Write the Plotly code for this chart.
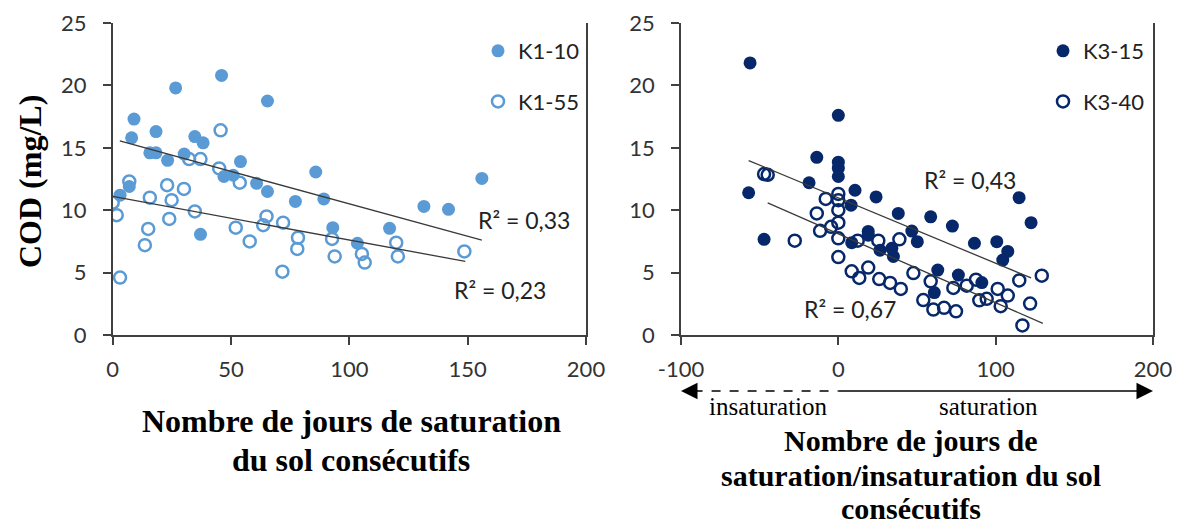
import plotly.graph_objects as go

# ---------------- data ----------------
k1_10_x = [3.1, 7, 8, 9, 15.7, 18.3, 18.3, 23.2, 26.6, 30.2, 34.7, 37.1, 38.2, 46, 47, 50.9, 54,
           60.8, 65.4, 65.4, 77.2, 85.8, 89.2, 93, 103.4, 117, 131.5, 141.9, 156]
k1_10_y = [11.2, 11.9, 15.8, 17.3, 14.6, 14.6, 16.3, 14.0, 19.8, 14.5, 15.9, 8.07, 15.4, 20.8, 12.7,
           12.8, 13.9, 12.15, 18.75, 11.5, 10.7, 13.06, 10.9, 8.6, 7.35, 8.55, 10.3, 10.07, 12.55]

k1_55_x = [0, 1.7, 3.1, 7, 13.6, 15, 15.7, 23, 23.9, 24.9, 30.1, 32.3, 34.7, 37.1, 45, 45.6, 52, 53.7,
           57.9, 63.6, 65, 71.7, 72, 78, 78.3, 92.7, 93.8, 105.3, 106.5, 119.8, 120.5, 148.6]
k1_55_y = [10.6, 9.6, 4.6, 12.3, 7.2, 8.5, 11.0, 12.0, 9.3, 10.8, 11.7, 14.1, 9.9, 14.1, 13.35, 16.4,
           8.6, 12.2, 7.5, 8.8, 9.5, 5.07, 9.0, 6.9, 7.8, 7.7, 6.3, 6.5, 5.8, 7.4, 6.3, 6.7]

k3_15_x = [-57, -56.1, -47.2, -18.6, -13.7, 0, 0, 0, 0, 8.1, 8.5, 10.6, 19, 19, 24, 26.5, 34, 35, 38.1,
           46.7, 50.2, 58.7, 61, 63.2, 72.5, 76.3, 86.5, 91.2, 100.7, 104.5, 107.7, 114.9, 122.5]
k3_15_y = [11.4, 21.8, 7.67, 12.2, 14.24, 17.6, 13.85, 13.37, 12.7, 10.4, 7.4, 11.6, 8.3, 8.0, 11.06,
           6.8, 6.95, 6.3, 9.74, 8.33, 7.48, 9.47, 3.4, 5.2, 8.73, 4.8, 7.35, 4.2, 7.48, 6.0, 6.7, 11.0, 9.0]

k3_40_x = [-47.2, -44.9, -27.7, -13.7, -11.6, -8, -4.6, 0, 0, 0, 0, 0, 0, 8.5, 12.3, 13.3, 19, 25.4,
           26, 32.9, 38.8, 39.7, 47.7, 54, 58.7, 60.4, 67.2, 73.1, 74.8, 81.6, 87.5, 89.6, 94.3, 101.3,
           103.2, 107.7, 115, 117, 121.9, 129.3]
k3_40_y = [12.9, 12.84, 7.56, 9.74, 8.35, 10.9, 8.67, 11.3, 10.8, 10.0, 9.0, 7.75, 6.24, 5.1, 7.56, 4.57,
           5.4, 7.56, 4.48, 4.17, 7.67, 3.69, 4.96, 2.8, 4.3, 2.04, 2.18, 3.77, 1.9, 3.95, 4.43, 2.78, 2.9,
           3.69, 2.31, 3.16, 4.37, 0.77, 2.52, 4.75]

# trend lines (endpoints)
k1_10_trend_x = [3, 156]
k1_10_trend_y = [15.55, 7.6]
k1_55_trend_x = [0, 149]
k1_55_trend_y = [11.1, 5.9]
k3_15_trend_x = [-57, 122.5]
k3_15_trend_y = [13.98, 4.57]
k3_40_trend_x = [-44.9, 130]
k3_40_trend_y = [10.58, 0.93]

r2_labels = ["R² = 0,33", "R² = 0,23", "R² = 0,43", "R² = 0,67"]
y_ticks = [0, 5, 10, 15, 20, 25]
x1_ticks = [0, 50, 100, 150, 200]
x2_ticks = [-100, 0, 100, 200]
x2_ticktext = ["-100", "0", "100", "200"]

# ---------------- style ----------------
BLUE = "#5B9BD5"
NAVY = "#06276A"
TREND = "#3A3A3A"
SANS = "Lato, 'Open Sans', sans-serif"
TICKFONT = dict(family=SANS, size=22, color="#333333")
SERIF = "'Liberation Serif', 'Times New Roman', serif"
MS = 13

# page has an 8px body margin: figure is placed at (8, 8)
OFF = 8
W, H = 1180 - OFF, 526 - OFF
def px(x):
    return (x - OFF) / W
def py(y):
    return 1 - (y - OFF) / H

fig = go.Figure()

# left panel
fig.add_trace(go.Scatter(x=k1_10_x, y=k1_10_y, mode="markers", name="K1-10",
                         marker=dict(symbol="circle", size=MS, color=BLUE),
                         xaxis="x", yaxis="y", legend="legend", legendgroup="a"))
fig.add_trace(go.Scatter(x=k1_55_x, y=k1_55_y, mode="markers", name="K1-55",
                         marker=dict(symbol="circle-open", size=MS - 1, color=BLUE,
                                     line=dict(width=2.5, color=BLUE)),
                         xaxis="x", yaxis="y", legend="legend", legendgroup="b"))
fig.add_trace(go.Scatter(x=k1_10_trend_x, y=k1_10_trend_y, mode="lines", showlegend=False,
                         line=dict(color=TREND, width=1.3), xaxis="x", yaxis="y", hoverinfo="skip"))
fig.add_trace(go.Scatter(x=k1_55_trend_x, y=k1_55_trend_y, mode="lines", showlegend=False,
                         line=dict(color=TREND, width=1.3), xaxis="x", yaxis="y", hoverinfo="skip"))

# right panel
fig.add_trace(go.Scatter(x=k3_15_x, y=k3_15_y, mode="markers", name="K3-15",
                         marker=dict(symbol="circle", size=MS, color=NAVY),
                         xaxis="x2", yaxis="y2", legend="legend2", legendgroup="c"))
fig.add_trace(go.Scatter(x=k3_40_x, y=k3_40_y, mode="markers", name="K3-40",
                         marker=dict(symbol="circle-open", size=MS - 1, color=NAVY,
                                     line=dict(width=2.5, color=NAVY)),
                         xaxis="x2", yaxis="y2", legend="legend2", legendgroup="d"))
fig.add_trace(go.Scatter(x=k3_15_trend_x, y=k3_15_trend_y, mode="lines", showlegend=False,
                         line=dict(color=TREND, width=1.3), xaxis="x2", yaxis="y2", hoverinfo="skip"))
fig.add_trace(go.Scatter(x=k3_40_trend_x, y=k3_40_trend_y, mode="lines", showlegend=False,
                         line=dict(color=TREND, width=1.3), xaxis="x2", yaxis="y2", hoverinfo="skip"))

axis_common = dict(showgrid=False, zeroline=False, showline=True, linecolor="#404040", linewidth=1.5,
                   ticks="outside", ticklen=8, tickwidth=1.5, tickcolor="#404040", tickfont=TICKFONT,
                   automargin=False)
xcommon = dict(axis_common, ticklabelstandoff=6)
ycommon = dict(axis_common, ticklabelstandoff=12)

ydom = [py(335), py(23)]
legfont = dict(family=SANS, size=22, color="#222222")
fig.update_layout(
    width=W, height=H,
    margin=dict(l=0, r=0, t=0, b=0),
    paper_bgcolor="white", plot_bgcolor="white",
    xaxis=dict(domain=[px(112.7), px(586)], range=[0, 200], tickvals=x1_ticks, anchor="y", **xcommon),
    yaxis=dict(domain=ydom, range=[0, 25], tickvals=y_ticks, anchor="x", mirror=True, **ycommon),
    xaxis2=dict(domain=[px(681), px(1153)], range=[-100, 200], tickvals=x2_ticks, ticktext=x2_ticktext,
                anchor="y2", **xcommon),
    yaxis2=dict(domain=ydom, range=[0, 25], tickvals=y_ticks, anchor="x2", mirror=True, **ycommon),
    legend=dict(x=px(478), y=py(30), xanchor="left", yanchor="top", bgcolor="rgba(0,0,0,0)",
                font=legfont, tracegroupgap=19, itemwidth=30),
    legend2=dict(x=px(1043), y=py(30), xanchor="left", yanchor="top", bgcolor="rgba(0,0,0,0)",
                 font=legfont, tracegroupgap=19, itemwidth=30),
    showlegend=True,
)

ann = []
r2font = dict(family=SANS, size=23, color="#222222")
ann.append(dict(x=174, y=9.2, xref="x", yref="y", text=r2_labels[0], showarrow=False, font=r2font))
ann.append(dict(x=163.5, y=3.6, xref="x", yref="y", text=r2_labels[1], showarrow=False, font=r2font))
ann.append(dict(x=83.6, y=12.4, xref="x2", yref="y2", text=r2_labels[2], showarrow=False, font=r2font))
ann.append(dict(x=7.4, y=2.05, xref="x2", yref="y2", text=r2_labels[3], showarrow=False, font=r2font))

tfont = dict(family=SERIF, size=32, color="black")
tfont_r = dict(family=SERIF, size=30, color="black")
def title(x, y, text, font=tfont, **kw):
    d = dict(x=px(x), y=py(y), xref="paper", yref="paper", text=text, showarrow=False,
             font=font, xanchor="center", yanchor="middle", borderpad=0)
    d.update(kw)
    ann.append(d)

title(30, 182, "<b>COD (mg/L)</b>", textangle=-90)
title(351, 421, "<b>Nombre de jours de saturation</b>")
title(351, 460, "<b>du sol consécutifs</b>")
title(911, 440, "<b>Nombre de jours de</b>", font=tfont_r)
title(911, 475, "<b>saturation/insaturation du sol</b>", font=tfont_r)
title(911, 508, "<b>consécutifs</b>", font=tfont_r)

# arrow labels
sfont = dict(family=SERIF, size=25, color="black")
ann.append(dict(x=-44.3, y=py(406), xref="x2", yref="paper", text="insaturation", showarrow=False,
                font=sfont, xanchor="center", yanchor="middle"))
ann.append(dict(x=95.6, y=py(406), xref="x2", yref="paper", text="saturation", showarrow=False,
                font=sfont, xanchor="center", yanchor="middle"))

# arrowheads
arrow_y = py(391)
ann.append(dict(x=-100, y=arrow_y, xref="x2", yref="paper", ax=16, ay=0, axref="pixel", ayref="pixel",
                showarrow=True, arrowhead=2, arrowsize=2.2, arrowwidth=1.5, arrowcolor="black", text=""))
ann.append(dict(x=200, y=arrow_y, xref="x2", yref="paper", ax=-16, ay=0, axref="pixel", ayref="pixel",
                showarrow=True, arrowhead=2, arrowsize=2.2, arrowwidth=1.5, arrowcolor="black", text=""))
fig.update_layout(annotations=ann)

fig.update_layout(shapes=[
    dict(type="line", xref="x2", yref="paper", x0=-92, x1=0, y0=arrow_y, y1=arrow_y,
         line=dict(color="black", width=1.3, dash="dash")),
    dict(type="line", xref="x2", yref="paper", x0=0, x1=192, y0=arrow_y, y1=arrow_y,
         line=dict(color="black", width=1.5)),
])

fig.write_html("out.html")
